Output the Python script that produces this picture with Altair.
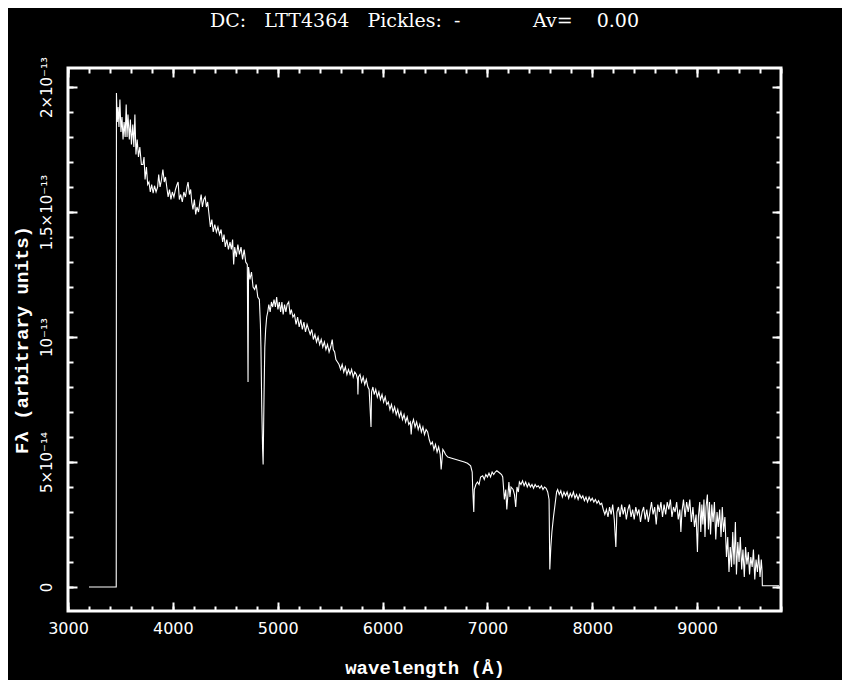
import altair as alt
import pandas as pd

# ---- data (flux in units of 1e-14) ----
seg_blue = [
    (3200, 0), (3460, 0), (3462, 19.76), (3470, 18.6), (3478, 19.2), (3486, 18.4), (3495, 19.5),
    (3505, 18.2), (3515, 18.8), (3525, 17.9), (3535, 18.6), (3545, 18.0), (3555, 19.3), (3563, 18.0),
    (3572, 18.9), (3585, 17.9), (3595, 18.7), (3605, 17.7), (3618, 18.5), (3628, 17.6), (3638, 18.9),
    (3648, 17.3), (3660, 17.9), (3672, 17.2), (3685, 17.6), (3700, 16.9), (3715, 16.9), (3725, 17.2),
    (3735, 16.3), (3748, 16.8), (3760, 16.1), (3772, 16.2), (3785, 15.8), (3798, 16.1), (3812, 15.75),
    (3825, 16.05), (3840, 15.8), (3855, 16.0), (3865, 16.5), (3878, 16.0), (3892, 16.3), (3905, 16.7),
    (3918, 16.2), (3930, 16.4), (3942, 16.0), (3955, 15.6), (3968, 15.9), (3982, 15.5), (3995, 15.8),
    (4010, 15.6), (4025, 15.9), (4040, 16.1), (4050, 16.2), (4062, 15.5), (4075, 15.7), (4090, 15.4),
    (4105, 15.8), (4120, 15.6), (4135, 16.0), (4145, 16.2), (4158, 15.7), (4170, 15.9), (4180, 15.4),
    (4192, 15.1), (4205, 15.5), (4218, 14.9), (4230, 15.2), (4245, 15.0), (4258, 15.4), (4270, 15.7),
    (4282, 15.2), (4295, 15.5), (4308, 15.6), (4320, 15.2), (4332, 15.4), (4345, 14.9), (4358, 14.4),
    (4372, 14.7), (4385, 14.2), (4400, 14.5), (4415, 14.2), (4430, 14.4), (4445, 14.1), (4460, 14.3),
    (4475, 13.8), (4488, 14.1), (4500, 13.6), (4515, 13.9), (4530, 13.5), (4545, 13.8), (4558, 13.5),
    (4570, 13.9), (4580, 12.9), (4590, 13.6), (4605, 13.2), (4620, 13.7), (4635, 13.3), (4650, 13.6),
    (4665, 13.1), (4680, 13.5), (4695, 13.0),
]
seg_mid = [
    (4710, 12.9), (4717, 8.2), (4722, 12.8), (4735, 12.3), (4750, 12.6), (4765, 12.0), (4780, 11.9),
    (4795, 12.1), (4810, 11.6), (4825, 11.5), (4835, 10.5), (4840, 9.6), (4848, 7.2), (4856, 5.5),
    (4861, 4.9), (4866, 6.5), (4870, 7.8), (4877, 9.6), (4885, 10.3), (4895, 10.8), (4905, 11.0),
    (4915, 11.3), (4928, 11.0), (4940, 11.4), (4952, 11.2), (4965, 11.5), (4978, 11.2), (4990, 11.6),
    (5002, 11.1), (5015, 11.4), (5028, 11.0), (5040, 11.4), (5052, 10.9), (5065, 11.3), (5078, 11.0),
    (5090, 11.3), (5105, 11.4), (5118, 10.9), (5130, 11.1), (5145, 10.8), (5160, 10.9), (5175, 10.5),
    (5190, 10.8), (5205, 10.4), (5220, 10.7), (5235, 10.3), (5250, 10.6), (5265, 10.2), (5280, 10.5),
    (5295, 10.3), (5310, 10.1), (5325, 10.3), (5340, 9.9), (5355, 10.1), (5370, 9.8), (5385, 10.0),
    (5400, 9.7), (5415, 9.9), (5430, 9.6), (5445, 9.8), (5460, 9.5), (5475, 9.7), (5490, 9.4),
    (5505, 9.6), (5520, 9.9), (5530, 9.5), (5543, 9.4), (5555, 9.1), (5570, 9.0), (5585, 8.9),
    (5600, 8.7), (5615, 8.9), (5630, 8.6), (5645, 8.8), (5660, 8.5), (5675, 8.7), (5690, 8.5),
    (5705, 8.7), (5720, 8.4), (5735, 8.6), (5750, 8.5), (5762, 8.3), (5765, 7.7), (5770, 8.4),
    (5785, 8.5), (5800, 8.2), (5815, 8.4), (5830, 8.1), (5845, 8.3), (5860, 8.0), (5872, 7.9),
    (5890, 6.4), (5895, 7.8), (5908, 8.0), (5920, 7.7), (5935, 7.9), (5950, 7.6), (5965, 7.8),
    (5980, 7.5), (5995, 7.7), (6010, 7.4), (6025, 7.6), (6040, 7.3), (6055, 7.4), (6070, 7.1),
    (6085, 7.3), (6100, 7.0), (6115, 7.2), (6130, 6.9), (6145, 7.1), (6160, 6.8), (6175, 7.0),
    (6190, 6.7), (6205, 6.9), (6220, 6.6), (6235, 6.8), (6250, 6.5), (6265, 6.6), (6273, 6.1),
    (6280, 6.5), (6295, 6.7), (6310, 6.4), (6325, 6.6), (6340, 6.3), (6355, 6.5), (6370, 6.2),
    (6385, 6.4), (6400, 6.1), (6415, 6.3), (6430, 6.2), (6445, 5.9), (6460, 5.7), (6475, 5.8),
    (6490, 5.5), (6505, 5.7), (6520, 5.4), (6535, 5.6), (6550, 5.3), (6559, 4.7), (6565, 5.0),
    (6575, 5.5), (6590, 5.4), (6600, 5.3), (6622, 5.2), (6660, 5.15), (6700, 5.1), (6740, 5.05),
    (6780, 5.0), (6810, 4.95), (6840, 4.85), (6855, 4.6),
]
seg_red = [
    (6860, 3.9), (6870, 3.0), (6875, 3.9), (6890, 4.1), (6905, 4.2), (6920, 4.1), (6935, 4.4),
    (6955, 4.45), (6970, 4.3), (6985, 4.5), (7000, 4.4), (7015, 4.55), (7030, 4.4), (7045, 4.6),
    (7060, 4.5), (7075, 4.6), (7090, 4.65), (7105, 4.6), (7120, 4.55), (7135, 4.5), (7146, 4.4),
    (7162, 3.5), (7175, 3.9), (7185, 3.1), (7194, 3.6), (7205, 4.2), (7215, 3.6), (7225, 4.0),
    (7245, 3.9), (7258, 3.7), (7270, 3.2), (7282, 4.0), (7295, 3.8), (7305, 4.2), (7320, 4.1),
    (7335, 4.25), (7350, 4.05), (7365, 4.2), (7380, 4.0), (7395, 4.15), (7410, 4.0), (7425, 4.1),
    (7440, 3.95), (7455, 4.1), (7470, 4.0), (7485, 4.05), (7500, 3.95), (7515, 4.05), (7530, 3.9),
    (7545, 4.0), (7560, 3.95), (7575, 3.8), (7588, 3.5), (7595, 0.7), (7605, 1.6), (7615, 2.2),
    (7630, 2.8), (7645, 3.3), (7660, 3.8), (7670, 3.9), (7685, 3.7), (7700, 3.85), (7715, 3.6),
    (7730, 3.8), (7745, 3.65), (7760, 3.8), (7775, 3.55), (7790, 3.75), (7805, 3.6), (7820, 3.8),
    (7835, 3.55), (7850, 3.7), (7865, 3.5), (7880, 3.7), (7895, 3.55), (7910, 3.65), (7925, 3.45),
    (7940, 3.6), (7955, 3.4), (7970, 3.6), (7985, 3.45), (8000, 3.55), (8015, 3.4), (8030, 3.5),
    (8045, 3.35), (8060, 3.45), (8075, 3.3), (8090, 3.35), (8105, 3.1), (8120, 2.9), (8135, 3.1),
    (8150, 2.8), (8165, 3.2), (8180, 2.9), (8195, 3.3), (8210, 2.7), (8225, 1.6), (8235, 3.0),
    (8250, 3.2), (8265, 2.8), (8280, 3.3), (8295, 2.9), (8310, 3.2), (8325, 2.7), (8340, 3.1),
    (8355, 3.3), (8370, 2.8), (8385, 3.1), (8400, 2.7), (8415, 3.2), (8430, 2.9), (8445, 3.1),
    (8460, 2.6), (8475, 3.0), (8490, 3.2), (8505, 2.7), (8520, 3.1), (8535, 2.6), (8550, 3.0),
    (8565, 3.4), (8580, 2.9), (8595, 3.2), (8610, 2.5), (8625, 3.3), (8640, 3.0), (8655, 3.4),
    (8670, 2.8), (8685, 3.3), (8700, 2.9), (8715, 3.4), (8730, 3.1), (8745, 3.5), (8760, 2.8),
    (8775, 3.2), (8790, 3.0), (8805, 3.4), (8820, 2.7), (8835, 3.1), (8845, 2.2), (8855, 3.0),
    (8870, 3.5), (8885, 2.8), (8900, 3.4), (8915, 3.0), (8930, 3.5), (8945, 2.6), (8960, 3.2),
    (8975, 2.4), (8990, 2.9), (9003, 1.4), (9012, 2.8), (9025, 3.4), (9035, 2.2), (9045, 3.3),
    (9055, 2.5), (9065, 3.5), (9075, 2.0), (9085, 3.2), (9098, 3.7), (9108, 2.3), (9118, 3.4),
    (9128, 2.1), (9140, 3.3), (9152, 2.6), (9165, 3.4), (9178, 1.9), (9190, 3.0), (9202, 2.4),
    (9215, 3.1), (9228, 2.0), (9240, 3.2), (9252, 2.2), (9265, 2.8), (9280, 1.2), (9292, 2.0),
    (9304, 0.6), (9316, 1.6), (9328, 0.8), (9340, 2.2), (9352, 0.9), (9365, 2.6), (9375, 0.5),
    (9388, 1.8), (9400, 1.0), (9412, 2.0), (9425, 0.7), (9437, 1.5), (9450, 0.4), (9462, 1.6),
    (9475, 0.9), (9488, 1.4), (9500, 0.5), (9512, 1.2), (9525, 0.8), (9537, 1.5), (9550, 0.3),
    (9562, 1.1), (9575, 0.6), (9587, 1.3), (9600, 0.4), (9612, 1.1), (9620, 0.6), (9622, 0.05),
    (9781, 0.05),
]

x_major = [3000, 4000, 5000, 6000, 7000, 8000, 9000]
x_minor = list(range(3000, 9801, 200))
y_major = [0, 5, 10, 15, 20]
y_major_labels = ["0", "5×10⁻¹⁴", "10⁻¹³", "1.5×10⁻¹³", "2×10⁻¹³"]
y_minor = list(range(0, 21))

title_text = "DC:\u00a0\u00a0\u00a0LTT4364\u00a0\u00a0\u00a0Pickles:\u00a0\u00a0-\u00a0\u00a0\u00a0\u00a0\u00a0\u00a0\u00a0\u00a0\u00a0\u00a0\u00a0\u00a0Av=\u00a0\u00a0\u00a0\u00a00.00"
x_title = "wavelength (Å)"
y_title = "Fλ (arbitrary units)"

df = pd.DataFrame(seg_blue + seg_mid + seg_red, columns=["wavelength", "flux"])

expr = "''"
for v, lab in reversed(list(zip(y_major, y_major_labels))):
    expr = f"datum.value == {v} ? '{lab}' : ({expr})"
y_label_expr = expr

xs = alt.Scale(domain=[3000, 9800], nice=False, zero=False)
ys = alt.Scale(domain=[-0.96, 20.76], nice=False, zero=False)

MAJ, MIN = 9, 5
LABEL_FONT = "DejaVu Sans"
TITLE_FONT = "Liberation Mono"
common = dict(domain=False, grid=False, tickColor="white", tickWidth=2)


def ax(orient, values, size, **kw):
    base = dict(common, orient=orient, values=values, tickSize=size, offset=-size)
    base.update(kw)
    if "labels" not in kw:
        base["labels"] = False
    if "title" not in kw:
        base["title"] = None
    return alt.Axis(**base)


x_bottom = ax("bottom", x_major, MAJ, labels=True, labelColor="white", labelFont=LABEL_FONT,
              labelFontSize=16, labelPadding=9, labelOverlap=False, labelFlush=False, format="d",
              title=x_title, titleColor="white", titleFont=TITLE_FONT, titleFontSize=19,
              titleFontWeight="bold", titleBaseline="alphabetic", titleY=71)
y_left = ax("left", y_major, MAJ, labels=True, labelColor="white", labelFont=LABEL_FONT,
            labelFontSize=15, labelPadding=17, labelAngle=270, labelAlign="center",
            labelBaseline="alphabetic", labelOverlap=False, labelFlush=False, labelExpr=y_label_expr,
            title=y_title, titleColor="white", titleFont=TITLE_FONT, titleFontSize=19,
            titleFontWeight="bold", titleBaseline="alphabetic", titleAngle=270, titleX=-50)

line = alt.Chart(df).mark_line(color="white", strokeWidth=1.1).encode(
    x=alt.X("wavelength:Q", scale=xs, axis=x_bottom),
    y=alt.Y("flux:Q", scale=ys, axis=y_left),
)


def ghost(xa, ya):
    return alt.Chart(df).mark_line(strokeOpacity=0).encode(
        x=alt.X("wavelength:Q", scale=xs, axis=xa),
        y=alt.Y("flux:Q", scale=ys, axis=ya),
    )


chart = alt.layer(
    line,
    ghost(ax("bottom", x_minor, MIN), ax("left", y_minor, MIN)),
    ghost(ax("top", x_major, MAJ), ax("right", y_major, MAJ)),
    ghost(ax("top", x_minor, MIN), ax("right", y_minor, MIN)),
).resolve_axis(x="independent", y="independent").properties(
    width=713,
    height=543,
    autosize=alt.AutoSizeParams(type="none"),
    padding={"left": 60, "top": 60, "right": 61, "bottom": 80},
    background="black",
    title=alt.TitleParams(text=title_text, font="DejaVu Serif", fontSize=19, fontWeight="normal",
                          color="white", anchor="middle", baseline="alphabetic", offset=10),
).configure_view(stroke="white", strokeWidth=3)

chart.save("out.html", embed_options={"renderer": "svg", "actions": False})
